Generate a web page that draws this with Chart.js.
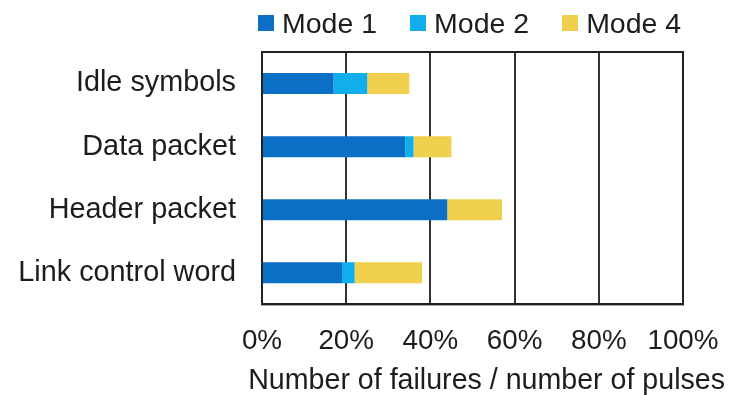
<!DOCTYPE html>
<html>
<head>
<meta charset="utf-8">
<script src="https://cdn.jsdelivr.net/npm/chart.js@4.4.1/dist/chart.umd.min.js"></script>
<style>
  html, body { margin: 0; padding: 0; background: #fff; }
  #wrap { position: relative; width: 730px; height: 395px; }
  #legend {
    position: absolute; left: 258px; top: 9px;
    display: flex; align-items: center;
    font-family: 'Liberation Sans', Arial, sans-serif; font-size: 28.5px; line-height: 28px;
    color: #1c1c1c;
  }
  #legend .item { display: flex; align-items: center; margin-right: 33px; }
  #legend .swatch { width: 16px; height: 16px; margin-right: 8px; }
</style>
</head>
<body>
<div id="wrap">
  <canvas id="failChart"></canvas>
  <div id="legend"></div>
</div>
<script>
// failure ratio per frame element, stacked by mode
var categories = ["Idle symbols", "Data packet", "Header packet", "Link control word"];
var mode1 = [17, 34, 44, 19];
var mode2 = [8, 2, 0, 3];
var mode4 = [10, 9, 13, 16];
var xTicks = [0, 20, 40, 60, 80, 100];

var lineColor = "#333333";
var textColor = "#1c1c1c";
var fontFamily = "'Liberation Sans', Arial, sans-serif";

// box round the plot area (top edge is not drawn by the axes)
var frame = {
    id: "frame",
    afterDraw: function (chart) {
        var a = chart.chartArea;
        var ctx = chart.ctx;
        ctx.save();
        ctx.strokeStyle = "#222222";
        ctx.lineWidth = 2;
        ctx.strokeRect(a.left, a.top, a.right - a.left, a.bottom - a.top);
        ctx.restore();
    }
};

var ctx = document.getElementById("failChart").getContext("2d");
var chart = new Chart(ctx, {
    type: "bar",
    data: {
        labels: categories,
        datasets: [
            { label: "Mode 1", data: mode1, backgroundColor: "#0B6FC6" },
            { label: "Mode 2", data: mode2, backgroundColor: "#10AEEC" },
            { label: "Mode 4", data: mode4, backgroundColor: "#F1D04E" }
        ]
    },
    options: {
        indexAxis: "y",
        responsive: true,
        maintainAspectRatio: false,
        animation: false,
        layout: { padding: { left: 10, right: 5, top: 52, bottom: 0 } },
        datasets: { bar: { barPercentage: 0.9, categoryPercentage: 0.37 } },
        plugins: {
            tooltip: { enabled: false },
            legend: { display: false },
            title: {
                display: true,
                position: "bottom",
                align: "end",
                text: "Number of failures / number of pulses",
                color: textColor,
                font: { family: fontFamily, size: 28.6, weight: "normal", lineHeight: 1 },
                padding: { top: 8, bottom: 0 }
            }
        },
        scales: {
            x: {
                stacked: true,
                min: 0,
                max: 100,
                afterBuildTicks: function (axis) {
                    axis.ticks = xTicks.map(function (v) { return { value: v }; });
                },
                afterFit: function (axis) {
                    axis.height = 54;
                    axis.paddingLeft = 0;
                    axis.paddingRight = 47;
                },
                grid: { color: lineColor, lineWidth: 2, drawTicks: false },
                border: { color: "#222222", width: 2 },
                ticks: {
                    padding: 20.5,
                    color: textColor,
                    font: { family: fontFamily, size: 27.8 },
                    callback: function (v) { return v + "%"; }
                }
            },
            y: {
                stacked: true,
                afterFit: function (axis) {
                    axis.width = 252;
                    axis.paddingTop = 0;
                    axis.paddingBottom = 0;
                },
                grid: { display: false, drawTicks: false },
                border: { color: "#222222", width: 2 },
                ticks: {
                    padding: 26,
                    color: textColor,
                    font: { family: fontFamily, size: 28.8 }
                }
            }
        }
    },
    plugins: [frame]
});

// legend as html, built from the datasets
var legendEl = document.getElementById("legend");
chart.data.datasets.forEach(function (ds) {
    var item = document.createElement("div");
    item.className = "item";
    var sw = document.createElement("span");
    sw.className = "swatch";
    sw.style.background = ds.backgroundColor;
    var label = document.createElement("span");
    label.textContent = ds.label;
    item.appendChild(sw);
    item.appendChild(label);
    legendEl.appendChild(item);
});
</script>
</body>
</html>
